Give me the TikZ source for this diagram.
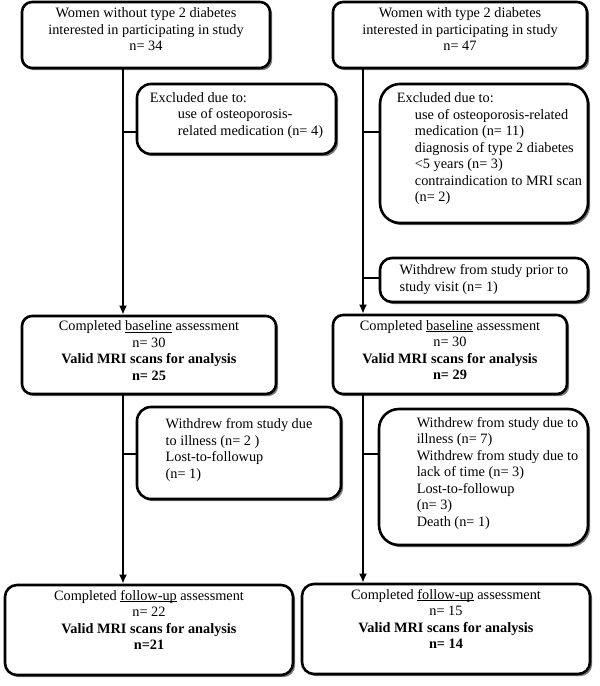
\documentclass[tikz,border=0pt]{standalone}
\usepackage{fontspec}
\setmainfont{Liberation Serif}[BoldFont={Liberation Serif Bold}]
\usetikzlibrary{shapes,arrows,arrows.meta,shadows}
\tikzstyle{block} = [rectangle, draw, line width=2.6pt, fill=white, align=center,
    rounded corners=10pt, inner sep=0pt, text depth=10pt,
    drop shadow={shadow xshift=2.2pt, shadow yshift=-2.2pt, fill=black!80, opacity=0.65}]
\tikzstyle{side} = [block, align=left, rounded corners=14pt]
\tikzstyle{line} = [draw, line width=2.6pt, -{Latex[length=9pt, width=8pt]}]
\tikzstyle{stub} = [draw, line width=2.6pt]
\newcommand{\uword}[1]{\underline{\smash{#1}}}

\begin{document}
\begin{tikzpicture}[x=1pt, y=-1pt, font=\fontsize{14.3}{16.5}\selectfont]

    \useasboundingbox (0,0) rectangle (600,686);

    % Place nodes
    \node [block, text depth=11pt, minimum width=248pt, minimum height=66pt] (topA) at (146,35)
        {Women without type 2 diabetes\\ interested in participating in study\\ n= 34};
    \node [block, text depth=11pt, minimum width=254pt, minimum height=66pt] (topB) at (460,35)
        {Women with type 2 diabetes\\ interested in participating in study\\ n= 47};
    \node [side, minimum width=199pt, minimum height=70pt] (exclA) at (236.5,119)
        {Excluded due to:\\ \hspace*{28pt}use of osteoporosis-\\ \hspace*{28pt}related medication (n= 4)};
    \node [side, text depth=12pt, rounded corners=20pt, minimum width=208pt, minimum height=139pt] (exclB) at (484,153.5)
        {\hspace*{11pt}Excluded due to:\\ \hspace*{29pt}use of osteoporosis-related\\ \hspace*{29pt}medication (n= 11)\\
         \hspace*{29pt}diagnosis of type 2 diabetes\\ \hspace*{29pt}<5 years (n= 3)\\
         \hspace*{29pt}contraindication to MRI scan\\ \hspace*{29pt}(n= 2)};
    \node [side, text depth=4pt, rounded corners=12pt, minimum width=208pt, minimum height=44pt] (wdB) at (484,280)
        {Withdrew from study prior to\\ study visit (n= 1)};
    \node [block, text depth=9pt, minimum width=254pt, minimum height=78pt] (baseA) at (149,355)
        {Completed \uword{baseline} assessment\\ n= 30\\ \textbf{Valid MRI scans for analysis}\\ \textbf{n= 25}};
    \node [block, text depth=9pt, minimum width=234pt, minimum height=79pt] (baseB) at (450,354.5)
        {Completed \uword{baseline} assessment\\ n= 30\\ \textbf{Valid MRI scans for analysis}\\ \textbf{n= 29}};
    \node [side, text depth=9pt, minimum width=204pt, minimum height=92pt] (wdA) at (239,453)
        {Withdrew from study due\\ to illness (n= 2 )\\ Lost-to-followup\\ (n= 1)};
    \node [side, text depth=11pt, rounded corners=20pt, minimum width=209pt, minimum height=136pt] (wdB2) at (483.5,477)
        {\hspace*{28pt}Withdrew from study due to\\ \hspace*{28pt}illness (n= 7)\\
         \hspace*{28pt}Withdrew from study due to\\ \hspace*{28pt}lack of time (n= 3)\\
         \hspace*{28pt}Lost-to-followup\\ \hspace*{28pt}(n= 3)\\ \hspace*{28pt}Death (n= 1)};
    \node [block, text depth=20pt, rounded corners=12pt, minimum width=288pt, minimum height=90pt] (fuA) at (149,630)
        {Completed \uword{follow-up} assessment\\ n= 22\\ \textbf{Valid MRI scans for analysis}\\ \textbf{n=21}};
    \node [block, text depth=20pt, rounded corners=12pt, minimum width=288pt, minimum height=90pt] (fuB) at (446,629)
        {Completed \uword{follow-up} assessment\\ n= 15\\ \textbf{Valid MRI scans for analysis}\\ \textbf{n= 14}};

    % Trunk positions and junctions
    \coordinate (xA) at (123,0);
    \coordinate (xB) at (363,0);
    \coordinate (jA1) at (123,132);
    \coordinate (jA2) at (123,454);
    \coordinate (jB1) at (363,132);
    \coordinate (jB2) at (363,278);
    \coordinate (jB3) at (363,454);

    % Draw edges
    \path [line] (topA.south -| xA) -- (baseA.north -| xA);
    \path [line] (baseA.south -| xA) -- (fuA.north -| xA);
    \path [line] (topB.south -| xB) -- (baseB.north -| xB);
    \path [line] (baseB.south -| xB) -- (fuB.north -| xB);
    \path [stub] (jA1) -- (jA1 -| exclA.west);
    \path [stub] (jA2) -- (jA2 -| wdA.west);
    \path [stub] (jB1) -- (jB1 -| exclB.west);
    \path [stub] (jB2) -- (jB2 -| wdB.west);
    \path [stub] (jB3) -- (jB3 -| wdB2.west);

\end{tikzpicture}
\end{document}
